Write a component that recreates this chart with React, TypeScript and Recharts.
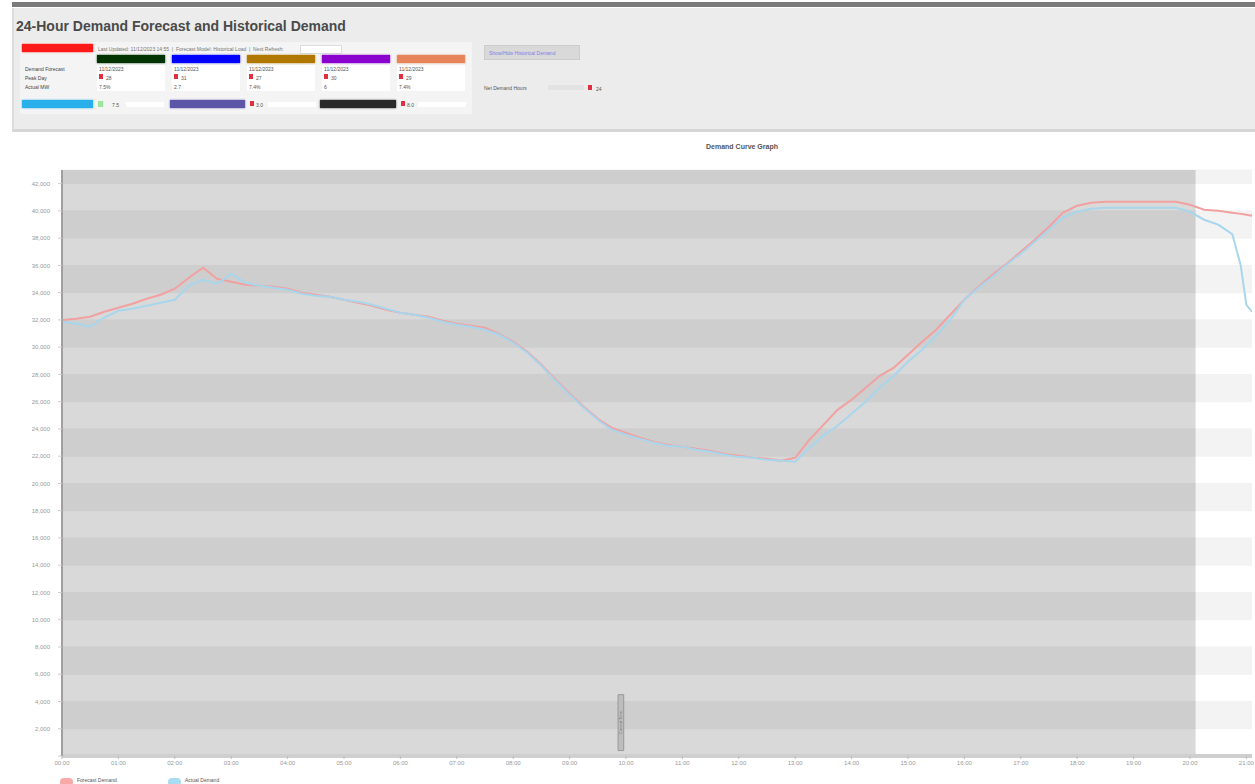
import React from 'react';
import {
  CartesianGrid,
  Line,
  LineChart,
  ReferenceArea,
  XAxis,
  YAxis
} from 'recharts';

// hours from the left edge of the graph
const hours = [
  0, 0.25, 0.5, 0.75, 1, 1.25, 1.5, 1.75, 2, 2.25, 2.5, 2.75, 3, 3.25, 3.5, 3.75, 4, 4.25, 4.5, 4.75,
  5, 5.25, 5.5, 5.75, 6, 6.25, 6.5, 6.75, 7, 7.25, 7.5, 7.75, 8, 8.25, 8.5, 8.75, 9, 9.25, 9.5, 9.75,
  10, 10.25, 10.5, 10.75, 11, 11.25, 11.5, 11.75, 12, 12.25, 12.5, 12.75, 13, 13.25, 13.5, 13.75, 14,
  14.25, 14.5, 14.75, 15, 15.25, 15.5, 15.75, 16, 16.25, 16.5, 16.75, 17, 17.25, 17.5, 17.75, 18,
  18.25, 18.5, 18.75, 19, 19.25, 19.5, 19.75, 20, 20.25, 20.5, 20.75, 20.9, 21, 21.1
];

const forecast = [
  32000, 32080, 32230, 32600, 32890, 33190, 33550, 33850, 34290, 35090, 35830, 35020, 34800, 34580,
  34510, 34430, 34290, 33990, 33850, 33700, 33480, 33260, 33040, 32750, 32530, 32380, 32230, 31940,
  31720, 31570, 31420, 30980, 30390, 29660, 28710, 27610, 26580, 25620, 24740, 24080, 23710, 23350,
  23050, 22830, 22690, 22540, 22390, 22170, 22030, 21880, 21810, 21660, 21880, 23200, 24300, 25400,
  26140, 27020, 27900, 28490, 29440, 30400, 31280, 32380, 33480, 34430, 35320, 36120, 37000, 37880,
  38840, 39870, 40380, 40600, 40670, 40670, 40670, 40670, 40670, 40670, 40450, 40090, 40010, 39870,
  39780, 39720, 39650
];

const actual = [
  31860, 31720, 31500, 32160, 32670, 32820, 33040, 33260, 33480, 34510, 34950, 34650, 35390, 34730,
  34510, 34360, 34210, 33920, 33770, 33700, 33480, 33330, 33110, 32820, 32530, 32380, 32160, 31860,
  31640, 31500, 31280, 30910, 30320, 29590, 28630, 27530, 26500, 25550, 24670, 23930, 23570, 23270,
  22980, 22760, 22690, 22470, 22320, 22100, 21950, 21880, 21730, 21660, 21590, 22610, 23490, 24230,
  25110, 25990, 27020, 27900, 28930, 29810, 30840, 32010, 33480, 34360, 35170, 36050, 36860, 37740,
  38620, 39500, 39940, 40160, 40230, 40230, 40230, 40230, 40230, 40230, 39940, 39350, 38990, 38300,
  36000, 33100, 32600
];

const xTicks = [0, 1, 2, 3, 4, 5, 6, 7, 8, 9, 10, 11, 12, 13, 14, 15, 16, 17, 18, 19, 20, 21];
const yTicks = [
  0, 2000, 4000, 6000, 8000, 10000, 12000, 14000, 16000, 18000, 20000, 22000, 24000, 26000, 28000,
  30000, 32000, 34000, 36000, 38000, 40000, 42000
];

const zoneColors = ['#003300', '#0000ff', '#b07800', '#8a00cc', '#e8845a'];
const zoneDates = ['11/12/2023', '11/12/2023', '11/12/2023', '11/12/2023', '11/12/2023'];
const zonePeaks = ['28', '31', '27', '30', '29'];
const zoneMw = ['7.5%', '2.7', '7.4%', '6', '7.4%'];
const rowLabels = ['Demand Forecast', 'Peak Day', 'Actual MW'];

const data = hours.map((h, i) => ({ h, forecast: forecast[i], actual: actual[i] }));

const fmtHour = (h: number) => `${String(h % 24).padStart(2, '0')}:00`;
const fmtMw = (v: number) => (v === 0 ? '' : v.toLocaleString('en-US'));

const tiny: React.CSSProperties = { position: 'absolute', fontSize: 5, color: '#555', whiteSpace: 'nowrap', lineHeight: '6px' };

const Bar = ({ x, y, w, color }: { x: number; y: number; w: number; color: string }) => (
  <div style={{ position: 'absolute', left: x, top: y, width: w, height: 8, background: color, boxShadow: `0 0 2px ${color}` }} />
);

const Dot = ({ x, y }: { x: number; y: number }) => (
  <div style={{ position: 'absolute', left: x, top: y, width: 4, height: 5, background: '#e03040' }} />
);

export default function App() {
  return (
    <div
      style={{
        position: 'absolute',
        left: 0,
        top: 0,
        width: 1255,
        height: 784,
        overflow: 'hidden',
        background: '#fff',
        fontFamily: '"Liberation Sans", Arial, sans-serif'
      }}
    >
      <div style={{ position: 'absolute', left: 12, top: 2, width: 1243, height: 5, background: '#7a7a7a' }} />
      <div
        style={{
          position: 'absolute',
          left: 12,
          top: 8,
          width: 1243,
          height: 121,
          background: '#ececec',
          borderLeft: '2px solid #dcdcdc',
          borderBottom: '3px solid #d6d6d6'
        }}
      />
      <div style={{ position: 'absolute', left: 16, top: 18, fontSize: 14, fontWeight: 'bold', color: '#4a4a4a' }}>
        24-Hour Demand Forecast and Historical Demand
      </div>

      {/* legend block */}
      <div style={{ position: 'absolute', left: 20, top: 42, width: 452, height: 72, background: '#f4f4f4' }} />
      <Bar x={22} y={44} w={71} color="#ff1a1a" />
      <div style={{ ...tiny, left: 98, top: 46, color: '#777' }}>
        Last Updated: 11/12/2023 14:55 &nbsp;|&nbsp; Forecast Model: Historical Load &nbsp;|&nbsp; Next Refresh:
      </div>
      <div style={{ position: 'absolute', left: 300, top: 45, width: 40, height: 7, background: '#fff', border: '1px solid #ddd' }} />
      <div style={{ ...tiny, left: 25, top: 66, color: '#444' }}>{rowLabels[0]}</div>
      <div style={{ ...tiny, left: 25, top: 75, color: '#444' }}>{rowLabels[1]}</div>
      <div style={{ ...tiny, left: 25, top: 84, color: '#444' }}>{rowLabels[2]}</div>
      {zoneColors.map((c, i) => {
        const x = 97 + i * 75;
        return (
          <React.Fragment key={c}>
            <Bar x={x} y={55} w={68} color={c} />
            <div style={{ position: 'absolute', left: x, top: 65, width: 68, height: 26, background: '#fff' }} />
            <div style={{ ...tiny, left: x + 2, top: 66 }}>{zoneDates[i]}</div>
            <Dot x={x + 2} y={74} />
            <div style={{ ...tiny, left: x + 9, top: 75 }}>{zonePeaks[i]}</div>
            <div style={{ ...tiny, left: x + 2, top: 84 }}>{zoneMw[i]}</div>
          </React.Fragment>
        );
      })}
      <Bar x={22} y={100} w={71} color="#29b0ea" />
      <div style={{ position: 'absolute', left: 98, top: 101, width: 5, height: 6, background: '#9ae89a' }} />
      <div style={{ ...tiny, left: 112, top: 102 }}>7.5</div>
      <div style={{ position: 'absolute', left: 126, top: 102, width: 38, height: 5, background: '#fff' }} />
      <Bar x={170} y={100} w={75} color="#5d55a5" />
      <Dot x={250} y={101} />
      <div style={{ ...tiny, left: 256, top: 102 }}>3.0</div>
      <div style={{ position: 'absolute', left: 268, top: 102, width: 48, height: 5, background: '#fff' }} />
      <Bar x={320} y={100} w={76} color="#2a2a2a" />
      <Dot x={401} y={101} />
      <div style={{ ...tiny, left: 407, top: 102 }}>8.0</div>
      <div style={{ position: 'absolute', left: 418, top: 102, width: 48, height: 5, background: '#fff' }} />

      <div
        style={{
          position: 'absolute',
          left: 484,
          top: 45,
          width: 96,
          height: 15,
          background: '#d9d9d9',
          border: '1px solid #ccc',
          boxSizing: 'border-box'
        }}
      />
      <div style={{ ...tiny, left: 489, top: 50, color: '#8080e8' }}>Show/Hide Historical Demand</div>
      <div style={{ ...tiny, left: 484, top: 85, color: '#555' }}>Net Demand Hours</div>
      <div style={{ position: 'absolute', left: 548, top: 85, width: 36, height: 5, background: '#e2e2e2' }} />
      <Dot x={588} y={85} />
      <div style={{ ...tiny, left: 596, top: 86 }}>24</div>

      <div style={{ position: 'absolute', left: 0, width: 1484, top: 143, textAlign: 'center', fontSize: 7, fontWeight: 'bold', color: '#555' }}>
        Demand Curve Graph
      </div>

      <div style={{ position: 'absolute', left: 0, top: 160 }}>
        <LineChart width={1255} height={624} data={data} margin={{ top: 10, right: 3, left: 0, bottom: 0 }}>
          <CartesianGrid
            vertical={false}
            stroke="#f2f2f2"
            horizontalFill={['#f3f3f3', '#ffffff']}
            fillOpacity={1}
          />
          <ReferenceArea x1={0} x2={20.1} y1={0} y2={43000} fill="#000" fillOpacity={0.15} stroke="none" />
          <XAxis
            dataKey="h"
            type="number"
            domain={[0, 21.1]}
            ticks={xTicks}
            tickFormatter={fmtHour}
            tick={{ fontSize: 6, fill: '#999' }}
            tickLine={{ stroke: '#bbb' }}
            tickSize={3}
            axisLine={{ stroke: '#cfcfcf', strokeWidth: 4 }}
            height={28}
            allowDataOverflow
          />
          <YAxis
            type="number"
            domain={[0, 43000]}
            ticks={yTicks}
            tickFormatter={fmtMw}
            tick={{ fontSize: 6, fill: '#999', dx: -6 }}
            tickLine={{ stroke: '#ccc' }}
            tickSize={4}
            axisLine={{ stroke: '#a0a0a0', strokeWidth: 2 }}
            width={62}
            allowDataOverflow
          />
          <ReferenceArea
            x1={9.86}
            x2={9.96}
            y1={400}
            y2={4500}
            fill="#bdbdbd"
            fillOpacity={1}
            stroke="#999"
            label={{ value: 'Current Time', angle: -90, position: 'center', fontSize: 4, fill: '#777' }}
          />
          <Line
            type="linear"
            dataKey="forecast"
            stroke="#f2a0a0"
            strokeWidth={2}
            dot={false}
            isAnimationActive={false}
          />
          <Line
            type="linear"
            dataKey="actual"
            stroke="#a8d6ec"
            strokeWidth={2}
            dot={false}
            isAnimationActive={false}
          />
        </LineChart>
      </div>

      <div style={{ position: 'absolute', left: 60, top: 778, width: 13, height: 8, borderRadius: 4, background: '#f8a8a8' }} />
      <div style={{ ...tiny, left: 77, top: 777, fontSize: 5 }}>Forecast Demand</div>
      <div style={{ position: 'absolute', left: 168, top: 778, width: 13, height: 8, borderRadius: 4, background: '#a8dcf0' }} />
      <div style={{ ...tiny, left: 185, top: 777, fontSize: 5 }}>Actual Demand</div>
    </div>
  );
}
